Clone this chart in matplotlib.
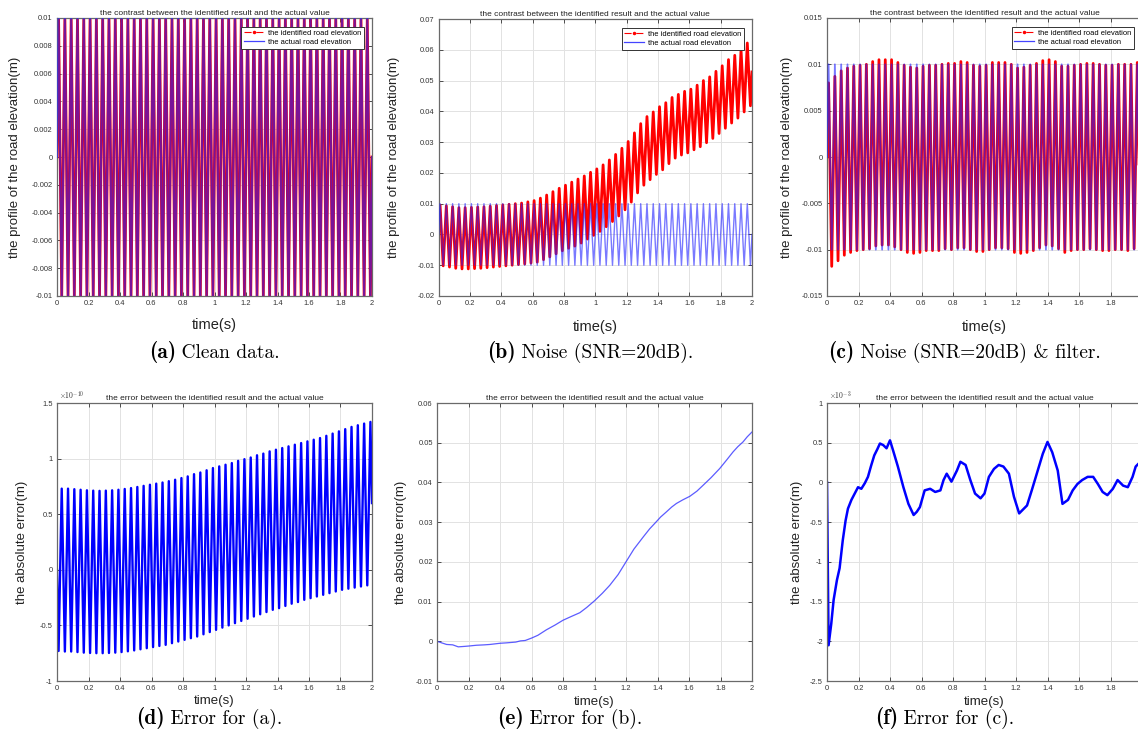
import numpy as np
import matplotlib
matplotlib.use("Agg")
import matplotlib.pyplot as plt
from matplotlib.lines import Line2D
from matplotlib.ticker import MultipleLocator, FixedLocator, FuncFormatter

# ---------------- data ----------------
# extrema of the 25 Hz road profile: peaks at t = 0.01 + 0.04k, troughs at t = 0.03 + 0.04k
peak_times = np.arange(0.01, 2.0, 0.04)
trough_times = np.arange(0.03, 2.0, 0.04)

actual_peaks = [0.01] * 50
actual_troughs = [-0.01] * 50

# (a) clean data: identified equals actual
clean_peaks = [0.01] * 50
clean_troughs = [-0.01] * 50

# (b) noise, SNR = 20 dB
noisy_peaks = [0.0095, 0.0093, 0.0090, 0.0087, 0.0087, 0.0088, 0.0089, 0.0090, 0.0092, 0.0094,
               0.0096, 0.0098, 0.0100, 0.0102, 0.0106, 0.0110, 0.0118, 0.0128, 0.0139, 0.0150,
               0.0160, 0.0170, 0.0180, 0.0190, 0.0202, 0.0213, 0.0226, 0.0242, 0.0260, 0.0280,
               0.0302, 0.0330, 0.0360, 0.0383, 0.0398, 0.0415, 0.0428, 0.0445, 0.0455, 0.0465,
               0.0472, 0.0485, 0.0500, 0.0512, 0.0530, 0.0548, 0.0568, 0.0582, 0.0600, 0.0622]
noisy_troughs = [-0.0102, -0.0106, -0.0110, -0.0112, -0.0112, -0.0111, -0.0110, -0.0108, -0.0106, -0.0104,
                 -0.0102, -0.0100, -0.0098, -0.0096, -0.0093, -0.0090, -0.0082, -0.0073, -0.0063, -0.0053,
                 -0.0045, -0.0038, -0.0028, -0.0015, -0.0003, 0.0010, 0.0025, 0.0042, 0.0060, 0.0080,
                 0.0105, 0.0135, 0.0160, 0.0178, 0.0195, 0.0210, 0.0230, 0.0248, 0.0258, 0.0265,
                 0.0275, 0.0285, 0.0298, 0.0312, 0.0328, 0.0345, 0.0362, 0.0378, 0.0398, 0.0418]
noisy_end = 0.0528

# (c) noise + filter
filt_peaks = [0.0080, 0.0087, 0.0093, 0.0096, 0.0098, 0.0099, 0.0100, 0.0103, 0.0105, 0.0105,
              0.0105, 0.0102, 0.0099, 0.0097, 0.0096, 0.0098, 0.0099, 0.0099, 0.0100, 0.0101,
              0.0101, 0.0103, 0.0102, 0.0099, 0.0098, 0.0099, 0.0102, 0.0102, 0.0102, 0.0100,
              0.0096, 0.0097, 0.0099, 0.0101, 0.0104, 0.0105, 0.0103, 0.0098, 0.0098, 0.0099,
              0.0100, 0.0101, 0.0101, 0.0100, 0.0099, 0.0099, 0.0100, 0.0100, 0.0100, 0.0102]
filt_troughs = [-0.0118, -0.0112, -0.0106, -0.0103, -0.0101, -0.0100, -0.0099, -0.0096, -0.0095, -0.0095,
                -0.0097, -0.0100, -0.0103, -0.0104, -0.0103, -0.0101, -0.0101, -0.0101, -0.0099, -0.0100,
                -0.0098, -0.0098, -0.0100, -0.0102, -0.0102, -0.0100, -0.0098, -0.0098, -0.0099, -0.0103,
                -0.0104, -0.0103, -0.0101, -0.0098, -0.0095, -0.0096, -0.0099, -0.0103, -0.0101, -0.0100,
                -0.0100, -0.0099, -0.0100, -0.0101, -0.0101, -0.0100, -0.0100, -0.0101, -0.0099, -0.0098]

# (d) error for (a), in units of 1e-10 m; lows at t = 0.01 + 0.04k, highs at t = 0.03 + 0.04k
err_a_lows = [-0.730, -0.735, -0.735, -0.740, -0.745, -0.748, -0.750, -0.750, -0.748, -0.745,
              -0.740, -0.733, -0.725, -0.715, -0.705, -0.695, -0.685, -0.675, -0.660, -0.645,
              -0.630, -0.615, -0.600, -0.580, -0.560, -0.540, -0.520, -0.500, -0.480, -0.460,
              -0.440, -0.420, -0.400, -0.380, -0.360, -0.345, -0.325, -0.305, -0.290, -0.270,
              -0.255, -0.240, -0.225, -0.210, -0.195, -0.180, -0.170, -0.160, -0.150, -0.140]
err_a_highs = [0.730, 0.730, 0.725, 0.720, 0.715, 0.712, 0.710, 0.712, 0.715, 0.720,
               0.727, 0.735, 0.745, 0.755, 0.765, 0.775, 0.785, 0.797, 0.810, 0.825,
               0.840, 0.860, 0.875, 0.895, 0.915, 0.930, 0.945, 0.960, 0.980, 0.995,
               1.010, 1.030, 1.045, 1.065, 1.080, 1.095, 1.110, 1.125, 1.140, 1.155,
               1.170, 1.185, 1.205, 1.225, 1.245, 1.265, 1.285, 1.300, 1.315, 1.330]
err_a_end = 0.60

# (e) error for (b), m
err_b_t = [0, 0.03, 0.061, 0.1, 0.135, 0.17, 0.2, 0.25, 0.3, 0.336, 0.4, 0.44, 0.5, 0.53, 0.56,
           0.6, 0.64, 0.695, 0.75, 0.8, 0.85, 0.907, 0.95, 1.0, 1.05, 1.097, 1.15, 1.2, 1.25,
           1.31, 1.35, 1.39, 1.42, 1.457, 1.49, 1.52, 1.56, 1.605, 1.65, 1.69, 1.74, 1.795,
           1.84, 1.88, 1.91, 1.943, 1.97, 2.0]
err_b = [0, -0.0004, -0.0008, -0.0009, -0.0014, -0.0013, -0.0012, -0.0010, -0.0009, -0.0008,
         -0.0005, -0.0004, -0.0002, 0.0001, 0.0002, 0.0008, 0.0015, 0.0029, 0.0041, 0.0053,
         0.0062, 0.0072, 0.0085, 0.0102, 0.0121, 0.0141, 0.0168, 0.0200, 0.0232, 0.0263,
         0.0283, 0.0300, 0.0313, 0.0326, 0.0338, 0.0347, 0.0356, 0.0365, 0.0378, 0.0393,
         0.0412, 0.0435, 0.0457, 0.0477, 0.0490, 0.0502, 0.0515, 0.0527]

# (f) error for (c), in units of 1e-3 m
err_c_t = [0, 0.01, 0.027, 0.042, 0.063, 0.08, 0.1, 0.118, 0.133, 0.155, 0.176, 0.197, 0.218,
           0.24, 0.26, 0.28, 0.30, 0.32, 0.336, 0.357, 0.378, 0.4, 0.42, 0.45, 0.485, 0.517,
           0.55, 0.57, 0.59, 0.62, 0.655, 0.687, 0.72, 0.74, 0.76, 0.79, 0.825, 0.847, 0.88,
           0.91, 0.94, 0.975, 1.0, 1.028, 1.06, 1.09, 1.12, 1.155, 1.187, 1.22, 1.25, 1.27,
           1.30, 1.335, 1.37, 1.4, 1.43, 1.465, 1.495, 1.53, 1.56, 1.59, 1.62, 1.655, 1.69,
           1.72, 1.75, 1.78, 1.815, 1.845, 1.88, 1.91, 1.94, 1.96, 1.98, 2.0]
err_c = [0, -2.05, -1.78, -1.48, -1.23, -1.08, -0.73, -0.48, -0.33, -0.22, -0.14, -0.06, -0.08,
         -0.01, 0.07, 0.21, 0.34, 0.42, 0.49, 0.47, 0.43, 0.53, 0.40, 0.20, -0.06, -0.27,
         -0.41, -0.37, -0.31, -0.10, -0.08, -0.12, -0.10, 0.03, 0.11, 0.01, 0.15, 0.26, 0.22,
         0.03, -0.14, -0.20, -0.14, 0.07, 0.17, 0.22, 0.20, 0.11, -0.18, -0.39, -0.33, -0.29,
         -0.10, 0.13, 0.36, 0.51, 0.38, 0.15, -0.27, -0.22, -0.10, -0.02, 0.03, 0.07, 0.07,
         -0.02, -0.12, -0.16, -0.08, 0.03, -0.04, -0.06, 0.07, 0.20, 0.24, 0.25]

titles_top = "the contrast between the identified result and the actual value"
titles_bot = "the error between the identified result and the actual value"
ylabel_top = "the profile of the road elevation(m)"
ylabel_bot = "the absolute error(m)"
xlabel = "time(s)"
legend_labels = ["the identified road elevation", "the actual road elevation"]
captions = [("(a)", " Clean data."),
            ("(b)", " Noise (SNR=20dB)."),
            ("(c)", " Noise (SNR=20dB) & filter."),
            ("(d)", " Error for (a)."),
            ("(e)", " Error for (b)."),
            ("(f)", " Error for (c).")]


def zigzag(first_t, first_v, second_t, second_v, end_v):
    t = [0.0]
    v = [0.0]
    for a, b, c, d in zip(first_t, first_v, second_t, second_v):
        t += [a, c]
        v += [b, d]
    t.append(2.0)
    v.append(end_v)
    return np.array(t), np.array(v)


# ---------------- figure ----------------
plt.rcParams['font.family'] = ['Liberation Sans', 'DejaVu Sans']
plt.rcParams['mathtext.fontset'] = 'cm'

W, H = 1138, 745
fig = plt.figure(figsize=(W / 100, H / 100), dpi=100)


def add_ax(l, r, t, b):
    return fig.add_axes([l / W, 1 - b / H, (r - l) / W, (b - t) / H])


def gfmt(v, pos):
    v = round(v, 8)
    if v == 0:
        return "0"
    return f"{v:g}"


def style(ax, ylim, ystep, title, ylabel, ylabel_dx, xlabel_size, xlabel_pad, cut=False):
    ax.set_xlim(0, 2)
    ax.set_ylim(*ylim)
    if cut:
        ax.xaxis.set_major_locator(FixedLocator(np.arange(0, 1.81, 0.2)))
    else:
        ax.xaxis.set_major_locator(MultipleLocator(0.2))
    ax.yaxis.set_major_locator(MultipleLocator(ystep))
    ax.xaxis.set_major_formatter(FuncFormatter(gfmt))
    ax.yaxis.set_major_formatter(FuncFormatter(gfmt))
    ax.grid(True, color='#e2e2e2', lw=0.7)
    ax.set_axisbelow(True)
    ax.tick_params(direction='in', length=3, width=0.6, top=True, right=True,
                   labelsize=5.4, colors='#333333', pad=3)
    for s in ax.spines.values():
        s.set_color('#6a6a6a')
        s.set_linewidth(0.9)
    ax.set_title(title, fontsize=6, pad=2, color='#222222')
    ax.set_xlabel(xlabel, fontsize=xlabel_size, labelpad=xlabel_pad, color='#222222')
    ax.set_ylabel(ylabel, fontsize=9.5, color='#222222')
    pos = ax.get_position()
    ax.yaxis.set_label_coords(-ylabel_dx / (pos.width * W), 0.5)


def legend(ax):
    handles = [Line2D([], [], color='red', ls='-.', marker='.', ms=3, lw=0.8),
               Line2D([], [], color='#4444ff', lw=0.9)]
    pos = ax.get_position()
    lg = ax.legend(handles, legend_labels, loc='upper right',
                   bbox_to_anchor=(1 - 8 / (pos.width * W), 1 - 9 / (pos.height * H)),
                   borderaxespad=0, fontsize=5.4, fancybox=False, framealpha=1,
                   edgecolor='#333333', borderpad=0.35, labelspacing=0.25,
                   handlelength=2.6, handletextpad=0.6)
    lg.get_frame().set_linewidth(0.7)


def contrast(ax, ident_p, ident_t, ident_end, blue_lw):
    t_id, v_id = zigzag(peak_times, ident_p, trough_times, ident_t, ident_end)
    t_ac, v_ac = zigzag(peak_times, actual_peaks, trough_times, actual_troughs, 0.0)
    ax.plot(t_id, v_id, color='red', lw=2.0, zorder=2)
    ax.plot(t_ac, v_ac, color='#2020ff', lw=blue_lw, alpha=0.6, zorder=3)


# top row
ax_a = add_ax(57, 372, 18, 296)
contrast(ax_a, clean_peaks, clean_troughs, 0.0, 1.5)
style(ax_a, (-0.01, 0.01), 0.002, titles_top, ylabel_top, 36, 10.5, 8)
legend(ax_a)

ax_b = add_ax(438.5, 752, 19, 296)
contrast(ax_b, noisy_peaks, noisy_troughs, noisy_end, 1.0)
style(ax_b, (-0.02, 0.07), 0.01, titles_top, ylabel_top, 38.5, 10.5, 9)
legend(ax_b)

ax_c = add_ax(827, 1142, 18, 296)
contrast(ax_c, filt_peaks, filt_troughs, 0.0, 1.3)
style(ax_c, (-0.015, 0.015), 0.005, titles_top, ylabel_top, 34, 10.5, 9, cut=True)
legend(ax_c)

# bottom row
ax_d = add_ax(57, 372, 403, 681)
t_d, v_d = zigzag(peak_times, err_a_lows, trough_times, err_a_highs, err_a_end)
ax_d.plot(t_d, v_d, color='#0000ff', lw=1.7)
style(ax_d, (-1.0, 1.5), 0.5, titles_bot, ylabel_bot, 29, 9.5, 2)
ax_d.text(0.005, 1.003, r"$\times 10^{-10}$", transform=ax_d.transAxes,
          fontsize=5.5, color='#333333', va='bottom', ha='left')

ax_e = add_ax(437, 752, 403, 681)
ax_e.plot(err_b_t, err_b, color='#3333ff', lw=0.9, alpha=0.8)
style(ax_e, (-0.01, 0.06), 0.01, titles_bot, ylabel_bot, 30, 9.5, 3)

ax_f = add_ax(827, 1142, 403, 681)
ax_f.plot(err_c_t, err_c, color='#0000ff', lw=1.8)
style(ax_f, (-2.5, 1.0), 0.5, titles_bot, ylabel_bot, 24, 9.5, 3, cut=True)
ax_f.text(0.005, 1.003, r"$\times 10^{-3}$", transform=ax_f.transAxes,
          fontsize=5.5, color='#333333', va='bottom', ha='left')

# captions: bold label + roman text, centred as a whole
cap_pos = [(215, 352), (591, 352), (965, 352), (210, 718), (570, 718), (945, 718)]
renderer = fig.canvas.get_renderer()
for (bold, rest), (cx, cy) in zip(captions, cap_pos):
    y = 1 - (cy + 6) / H
    tb = fig.text(0, y, bold, fontsize=15.5, family='cmb10', ha='left', va='baseline', color='black')
    tr = fig.text(0, y, rest, fontsize=14, family='cmr10', ha='left', va='baseline', color='black')
    wb = tb.get_window_extent(renderer).width
    wr = tr.get_window_extent(renderer).width
    left = cx - (wb + wr) / 2
    tb.set_x(left / W)
    tr.set_x((left + wb - 1) / W)

fig.savefig("out.png", dpi=100)
